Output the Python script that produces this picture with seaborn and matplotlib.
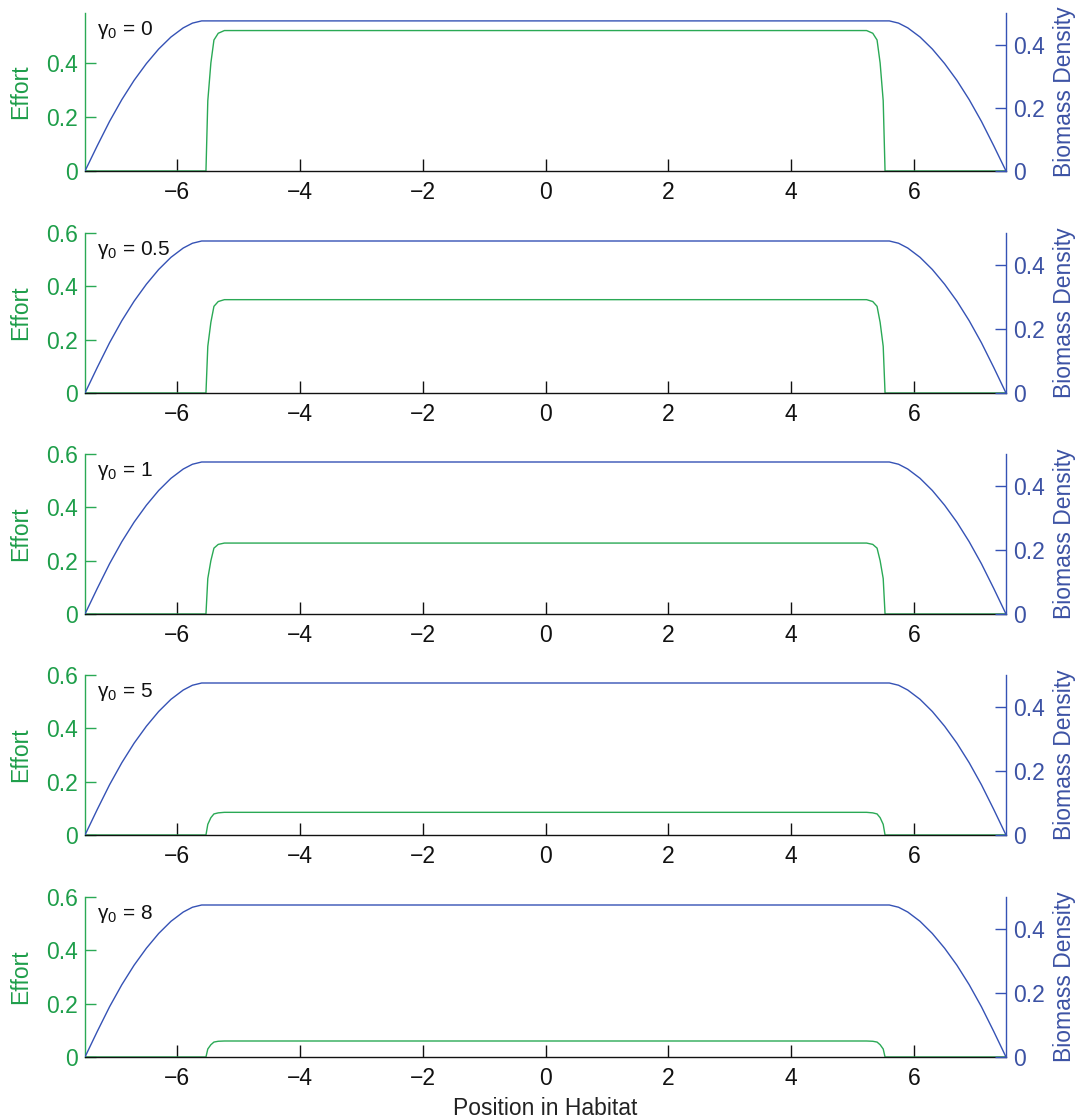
"""
Effort and biomass density across the habitat for several gamma_0 values
"""

import numpy as np
import pandas as pd
import matplotlib
matplotlib.use('Agg')
import matplotlib.pyplot as plt
import seaborn as sns

# ---- data ----
gamma_labels = ['0', '0.5', '1', '5', '8']

bio_x = [-7.5, -7.3, -7.1, -6.9, -6.7, -6.5, -6.3, -6.1, -5.9, -5.75, -5.6,
         5.6, 5.75, 5.9, 6.1, 6.3, 6.5, 6.7, 6.9, 7.1, 7.3, 7.5]
bio_y = [0, 0.08, 0.157, 0.226, 0.287, 0.34, 0.386, 0.424, 0.453, 0.468, 0.475,
         0.475, 0.468, 0.453, 0.424, 0.386, 0.34, 0.287, 0.226, 0.157, 0.08, 0]

effort_x = [-7.5, -5.53, -5.5, -5.45, -5.4, -5.33, -5.23,
            5.23, 5.33, 5.4, 5.45, 5.5, 5.53, 7.5]
effort_g0 = [0, 0, 0.26, 0.40, 0.485, 0.51, 0.52, 0.52, 0.51, 0.485, 0.40, 0.26, 0, 0]
effort_g05 = [0, 0, 0.175, 0.265, 0.325, 0.343, 0.35, 0.35, 0.343, 0.325, 0.265, 0.175, 0, 0]
effort_g1 = [0, 0, 0.133, 0.2, 0.247, 0.261, 0.266, 0.266, 0.261, 0.247, 0.2, 0.133, 0, 0]
effort_g5 = [0, 0, 0.04, 0.065, 0.079, 0.083, 0.085, 0.085, 0.083, 0.079, 0.065, 0.04, 0, 0]
effort_g8 = [0, 0, 0.03, 0.046, 0.056, 0.059, 0.06, 0.06, 0.059, 0.056, 0.046, 0.03, 0, 0]
efforts = [effort_g0, effort_g05, effort_g1, effort_g5, effort_g8]

x_ticks = [-6, -4, -2, 0, 2, 4, 6]
left_ticks = [0, 0.2, 0.4, 0.6]
right_ticks = [0, 0.2, 0.4]

# ---- style ----
GREEN_TXT = '#1e9e4a'
GREEN_LINE = '#2aa955'
BLUE_TXT = '#3c52a4'
BLUE_LINE = '#3552b5'
FS = 16.5

sns.set_style('ticks')
plt.rcParams['font.family'] = ['Liberation Sans', 'DejaVu Sans']
plt.rcParams['mathtext.fontset'] = 'custom'
plt.rcParams['mathtext.rm'] = 'Liberation Sans'
plt.rcParams['mathtext.it'] = 'Liberation Sans'

W, H = 1080, 1120
fig = plt.figure(figsize=(W / 100, H / 100), dpi=100)

left_px, right_px = 85, 1006
bottoms_px = [171, 393, 614, 835, 1057]
heights_px = [158, 160, 160, 160, 160]

bio_df = pd.DataFrame({'x': bio_x, 'y': bio_y})

for i, (g, eff) in enumerate(zip(gamma_labels, efforts)):
    b = bottoms_px[i]
    h = heights_px[i]
    rect = [left_px / W, 1 - b / H, (right_px - left_px) / W, h / H]
    ax = fig.add_axes(rect)
    ax2 = ax.twinx()

    eff_df = pd.DataFrame({'x': effort_x, 'y': eff})
    sns.lineplot(data=eff_df, x='x', y='y', ax=ax, color=GREEN_LINE,
                 lw=1.0, estimator=None, sort=False)
    sns.lineplot(data=bio_df, x='x', y='y', ax=ax2, color=BLUE_LINE,
                 lw=1.0, estimator=None, sort=False)

    ax.set_xlim(-7.5, 7.5)
    if i == 0:
        ax.set_ylim(0, 0.585)
        lt = left_ticks[:3]
    else:
        ax.set_ylim(0, 0.6)
        lt = left_ticks
    ax2.set_ylim(0, 0.5)

    ax.set_xticks(x_ticks)
    ax.set_xticklabels([('\u2212' + str(abs(t))) if t < 0 else str(t) for t in x_ticks])
    ax.set_yticks(lt)
    ax.set_yticklabels(['0' if t == 0 else f'{t:.1f}' for t in lt])
    ax2.set_yticks(right_ticks)
    ax2.set_yticklabels(['0' if t == 0 else f'{t:.1f}' for t in right_ticks])

    # spines
    ax.spines['top'].set_visible(False)
    ax.spines['right'].set_visible(False)
    ax.spines['left'].set_color(GREEN_LINE)
    ax.spines['bottom'].set_color('#111111')
    ax.spines['bottom'].set_zorder(5)
    for s in ['top', 'left', 'bottom']:
        ax2.spines[s].set_visible(False)
    ax2.spines['right'].set_color(BLUE_LINE)
    for a in (ax, ax2):
        for s in a.spines.values():
            s.set_linewidth(1.0)

    ax.tick_params(axis='x', direction='in', length=9, width=1.0,
                   colors='#111111', labelsize=FS, pad=7)
    ax.tick_params(axis='y', direction='in', length=8, width=1.0,
                   colors=GREEN_LINE, labelcolor=GREEN_TXT, labelsize=FS, pad=5)
    ax2.tick_params(axis='y', direction='in', length=8, width=1.0,
                    colors=BLUE_LINE, labelcolor=BLUE_TXT, labelsize=FS, pad=5)

    ax.set_xlabel('')
    ax.set_ylabel('Effort', color=GREEN_TXT, fontsize=FS, labelpad=10)
    ax2.set_ylabel('Biomass Density', color=BLUE_TXT, fontsize=FS, labelpad=6)

    ax.text(0.013, 0.96, r'$\mathregular{\gamma_0}$ = ' + g, transform=ax.transAxes,
            ha='left', va='top', fontsize=15, color='#111111')

    if i == len(gamma_labels) - 1:
        ax.set_xlabel('Position in Habitat', fontsize=FS, color='#222222', labelpad=5)

fig.savefig('out.png', dpi=100)
